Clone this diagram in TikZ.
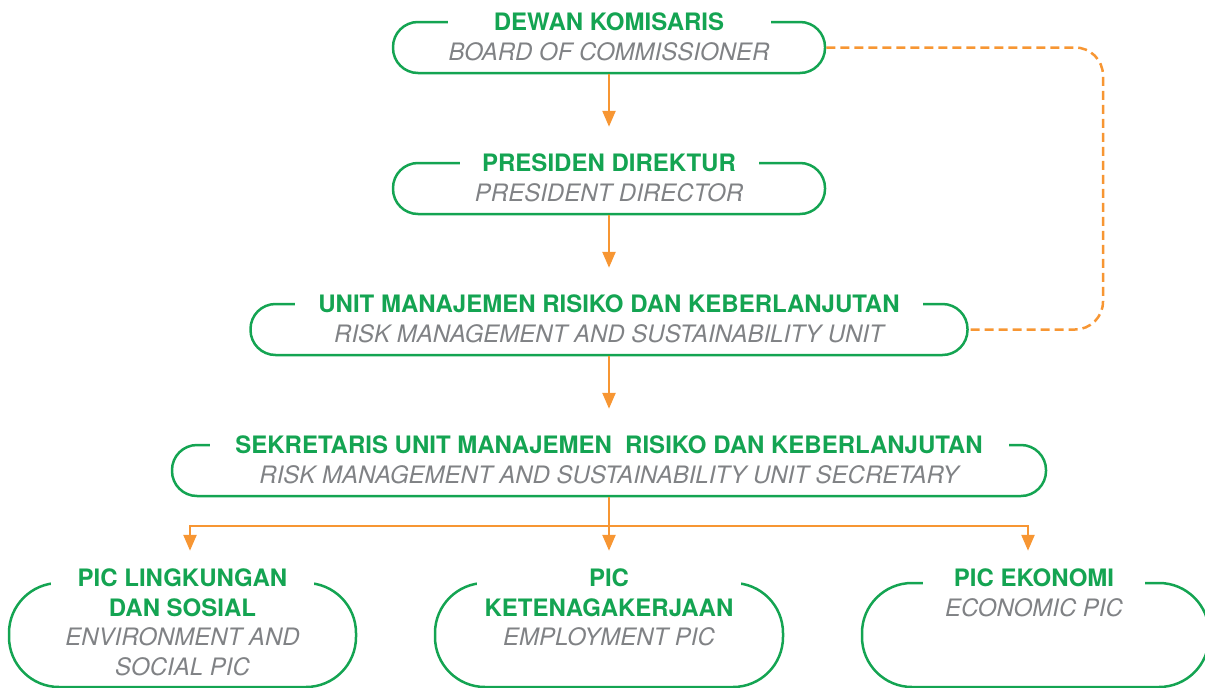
\documentclass[tikz,border=0pt]{standalone}
\usepackage{fontspec}
\setmainfont{TeX Gyre Heros}
\usepackage{xcolor}
\usetikzlibrary{arrows.meta,positioning}
\definecolor{hijau}{RGB}{20,164,82}
\definecolor{abu}{RGB}{128,130,133}
\definecolor{oranye}{RGB}{247,150,51}
\tikzset{
    kotak/.style={
        rectangle,
        draw=hijau,
        line width=2.5pt,
        rounded corners=25pt,
        minimum height=51pt
    },
    kotakbawah/.style={kotak, rounded corners=50pt, minimum width=347pt, minimum height=104pt},
    judul/.style={
        fill=white,
        text=hijau,
        align=center,
        inner xsep=8pt,
        inner ysep=2pt,
        font=\fontsize{24}{29.5}\selectfont\bfseries
    },
    ket/.style={text=abu, align=center, inner sep=2pt, font=\fontsize{24}{29.5}\selectfont\itshape},
    alur/.style={draw=oranye, line width=2.5pt, -{Triangle[length=16pt,width=13pt]}, shorten >=35pt},
    cabangan/.style={alur, shorten >=31pt},
    putus/.style={draw=oranye, line width=2.5pt, dash pattern=on 9pt off 5pt, rounded corners=28pt}
}

\begin{document}
\begin{tikzpicture}[x=1pt, y=-1pt, node distance=7pt]
    \useasboundingbox (0,0) rectangle (1205,688);

    \node[kotak, minimum width=432pt] (dewan) at (609,47.5) {};
    \node[kotak, minimum width=432pt] (presdir) at (609,188.5) {};
    \node[kotak, minimum width=717pt] (unit) at (609,329.5) {};
    \node[kotak, minimum width=874pt] (sekretaris) at (609,470.5) {};
    \node[kotakbawah] (pling) at (182.5,635) {};
    \node[kotakbawah, minimum width=348pt] (pnaker) at (609,635) {};
    \node[kotakbawah] (peko) at (1035.5,635) {};

    \node[judul, minimum width=323pt] (tdewan) at ([yshift=-1pt]dewan.north) {DEWAN KOMISARIS};
    \node[ket, below=of tdewan] (kdewan) {BOARD OF COMMISSIONER};
    \node[judul, minimum width=299pt] (tpresdir) at ([yshift=-1pt]presdir.north) {PRESIDEN DIREKTUR};
    \node[ket, below=of tpresdir] (kpresdir) {PRESIDENT DIRECTOR};
    \node[judul, minimum width=628pt] (tunit) at ([yshift=-1pt]unit.north)
        {UNIT MANAJEMEN RISIKO DAN KEBERLANJUTAN};
    \node[ket, below=of tunit] (kunit) {RISK MANAGEMENT AND SUSTAINABILITY UNIT};
    \node[judul, minimum width=799pt] (tsekretaris) at ([yshift=-1pt]sekretaris.north)
        {SEKRETARIS UNIT MANAJEMEN\ \ RISIKO DAN KEBERLANJUTAN};
    \node[ket, below=of tsekretaris] (ksekretaris)
        {RISK MANAGEMENT AND SUSTAINABILITY UNIT SECRETARY};

    \node[judul, anchor=north, minimum width=263pt] (tpling) at ([yshift=15pt]pling.north)
        {PIC LINGKUNGAN\\DAN SOSIAL};
    \node[ket, below=of tpling] (kpling) {ENVIRONMENT AND\\SOCIAL PIC};
    \node[judul, anchor=north, minimum width=263pt] (tpnaker) at ([yshift=15pt]pnaker.north)
        {PIC\\KETENAGAKERJAAN};
    \node[ket, below=of tpnaker] (kpnaker) {EMPLOYMENT PIC};
    \node[judul, anchor=north, minimum width=222pt] (tpeko) at ([yshift=15pt,xshift=-1.5pt]peko.north)
        {PIC EKONOMI};
    \node[ket, below=of tpeko] (kpeko) {ECONOMIC PIC};

    \draw[alur] (dewan) -- (presdir);
    \draw[alur] (presdir) -- (unit);
    \draw[alur] (unit) -- (sekretaris);
    \coordinate (cabang) at (609,526);
    \draw[cabangan] (sekretaris) -- (pnaker);
    \draw[cabangan] (cabang) -| ([xshift=7.5pt]pling.north);
    \draw[cabangan] (cabang) -| ([xshift=-7.5pt]peko.north);

    \coordinate (sudut) at (1103,329.5);
    \draw[putus] (dewan.east) -| (sudut) -- (unit.east);
\end{tikzpicture}
\end{document}
